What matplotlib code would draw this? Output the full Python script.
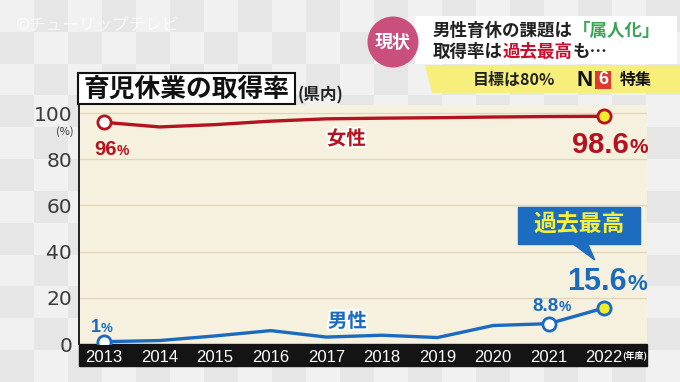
import matplotlib
matplotlib.use("Agg")
import matplotlib.pyplot as plt
import numpy as np
import matplotlib.patheffects as pe
from matplotlib.colors import ListedColormap
from matplotlib.patches import Rectangle, Circle, Polygon

plt.rcParams["font.family"] = ["Noto Sans CJK JP", "DejaVu Sans"]

# data (県内 育児休業の取得率, %)
years = [2013, 2014, 2015, 2016, 2017, 2018, 2019, 2020, 2021, 2022]
female = [96.0, 94.0, 95.0, 96.5, 97.5, 97.8, 98.0, 98.3, 98.5, 98.6]
male = [1.0, 1.5, 3.5, 5.8, 3.0, 3.8, 2.8, 8.0, 8.8, 15.6]
yticks = [0, 20, 40, 60, 80, 100]

RED = "#b3121e"
BLUE = "#1a6bbf"
YELLOW = "#f3ec2e"
CREAM = "#f6f1df"
GRID = "#e0d6b6"
NUM = ["Liberation Sans", "DejaVu Sans"]

W, H = 680, 382
fig = plt.figure(figsize=(W / 100, H / 100), dpi=100)

# checkered backdrop
bg = fig.add_axes([0, 0, 1, 1], zorder=0)
checker = np.indices((12, 20)).sum(axis=0) % 2
bg.imshow(checker, cmap=ListedColormap(["#f1f1f1", "#e6e6e6"]),
          extent=[0, 1, 0, 1], aspect="auto", interpolation="nearest")
bg.axis("off")

# ---- main chart ------------------------------------------------------
ax = fig.add_axes([79 / W, 1 - 344 / H, (647 - 79) / W, (344 - 105) / H], zorder=2)
ax.set_facecolor(CREAM)
ax.set_xlim(2012.55, 2022.77)
ax.set_ylim(0, 103.5)
ax.set_yticks(yticks)
ax.set_yticklabels([str(t) for t in yticks])
ax.set_xticks(years)
ax.set_xticklabels([str(y) for y in years], family=["Liberation Sans Narrow", "Liberation Sans"])
ax.grid(axis="y", color=GRID, lw=0.9)
ax.set_axisbelow(True)
for s in ("top", "right", "bottom"):
    ax.spines[s].set_visible(False)
ax.spines["left"].set_color("#222")
ax.spines["left"].set_linewidth(1.4)
ax.tick_params(axis="y", length=0, labelsize=14.5, labelcolor="#3a3a3a", pad=5)
for lab in ax.get_yticklabels():
    lab.set_family(["DejaVu Sans"])
ax.tick_params(axis="x", length=0, labelsize=12, labelcolor="white", pad=4.5)

# black band for year labels (below the axis artists)
ax.add_patch(Rectangle((0, -22 / 239), 1, 22 / 239, transform=ax.transAxes,
                       clip_on=False, color="#141414", zorder=0.3))
ax.text(1.0, -11 / 239, "(年度)", transform=ax.transAxes, ha="right",
        va="center", color="white", fontsize=6.5, fontweight="bold")
ax.text(-0.01, 92, "(%)", transform=ax.get_yaxis_transform(), ha="right",
        va="center", color="#3a3a3a", fontsize=8)

# lines + markers
ax.plot(years, female, color=RED, lw=2.4, zorder=3, solid_joinstyle="round")
ax.plot(years, male, color=BLUE, lw=2.4, zorder=3, solid_joinstyle="round")
ax.plot(years[0], female[0], "o", ms=9.5, mfc="white", mec=RED, mew=2, zorder=4)
ax.plot(years[-1], female[-1], "o", ms=9.5, mfc=YELLOW, mec=RED, mew=2, zorder=4)
ax.plot([years[0], years[-2]], [male[0], male[-2]], "o", ms=9.5, mfc="white",
        mec=BLUE, mew=2, zorder=4)
ax.plot(years[-1], male[-1], "o", ms=9.5, mfc=YELLOW, mec=BLUE, mew=2, zorder=4)


def pct(i, series, color, dx, dy, size, psize, gap=0):
    x, v = years[i], series[i]
    num = f"{v:g}"
    kw = dict(xy=(x, v), textcoords="offset pixels", va="baseline",
              color=color, fontweight="bold", family=NUM,
              annotation_clip=False, zorder=6)
    ax.annotate(num, xytext=(dx, dy), ha="right", fontsize=size, **kw)
    ax.annotate("%", xytext=(dx + gap, dy), ha="left", fontsize=psize, **kw)


pct(0, female, RED, 13, -33, 14.5, 10)
pct(-1, female, RED, 25, -37, 21, 15)
pct(0, male, BLUE, -3, 10, 13, 9.5)
pct(-2, male, BLUE, 10, 13, 13.5, 10)
pct(-1, male, BLUE, 23, 18, 22, 16)

outline = [pe.withStroke(linewidth=3, foreground="white")]
ax.text(2017.36, 88.7, "女性", color=RED, fontsize=14, fontweight="bold",
        ha="center", va="center", path_effects=outline, zorder=6)
ax.text(2017.38, 9.7, "男性", color=BLUE, fontsize=14, fontweight="bold",
        ha="center", va="center", path_effects=outline, zorder=6)

# 過去最高 callout
ax.add_patch(Rectangle((2020.44, 43.3), 2.2, 16.0, color="#1c6cc0", zorder=6,
                       clip_on=False))
ax.add_patch(Polygon([(2021.43, 43.5), (2021.70, 43.5), (2021.83, 36.4)],
                     color="#1c6cc0", zorder=6, clip_on=False))
ax.text(2021.54, 51.3, "過去最高", color="#f5f03a", fontsize=16.5,
        fontweight="bold", ha="center", va="center", zorder=7)

# ---- overlay in pixel coordinates ------------------------------------
ov = fig.add_axes([0, 0, 1, 1], zorder=3)
ov.set_xlim(0, W)
ov.set_ylim(H, 0)
ov.axis("off")
ov.patch.set_alpha(0)

# title box
ov.add_patch(Rectangle((78, 73), 217, 31, facecolor="white", edgecolor="#111", lw=1.5))
ov.text(186.5, 89, "育児休業の取得率", fontsize=18.5, fontweight="bold",
        ha="center", va="center", color="#111")
ov.text(298, 95, "(県内)", fontsize=12, fontweight="bold", ha="left",
        va="center", color="#222")

# watermark
ov.text(15, 25, "©チューリップテレビ", fontsize=12, color="white", alpha=0.7,
        ha="left", va="center")

# header
ov.add_patch(Rectangle((415, 16), 262, 48, facecolor="white", edgecolor="none"))
ov.add_patch(Polygon([(425, 65), (680, 65), (680, 93), (432, 93)],
                     facecolor="#f6ef7c", edgecolor="none"))
ov.add_patch(Circle((393, 42), 25.5, facecolor="#c94f7c", edgecolor="none"))
ov.text(393, 42, "現状", fontsize=13, fontweight="bold", color="white",
        ha="center", va="center")

renderer = fig.canvas.get_renderer()


def chain(x, y, parts, size):
    for s, c in parts:
        t = ov.text(x, y, s, color=c, fontsize=size, fontweight="bold",
                    ha="left", va="center")
        x += t.get_window_extent(renderer).width


chain(433, 31, [("男性育休の課題は", "#222"), ("「属人化」", "#3aa655")], 12.6)
chain(433, 52, [("取得率は", "#222"), ("過去最高", "#c8102e"), ("も…", "#222")], 12.6)
chain(473, 80, [("目標は80%", "#222")], 11.5)
ov.text(576, 80, "N", fontsize=16, fontweight="bold", color="#111",
        ha="left", va="center", family=NUM)
ov.add_patch(Rectangle((595, 71), 16, 18, facecolor="#e03a2e", edgecolor="none"))
ov.text(603, 80, "6", fontsize=13, fontweight="bold", color="white",
        ha="center", va="center", family=NUM)
ov.text(620, 80, "特集", fontsize=11.5, fontweight="bold", color="#111",
        ha="left", va="center")

fig.savefig("out.png", dpi=100)
